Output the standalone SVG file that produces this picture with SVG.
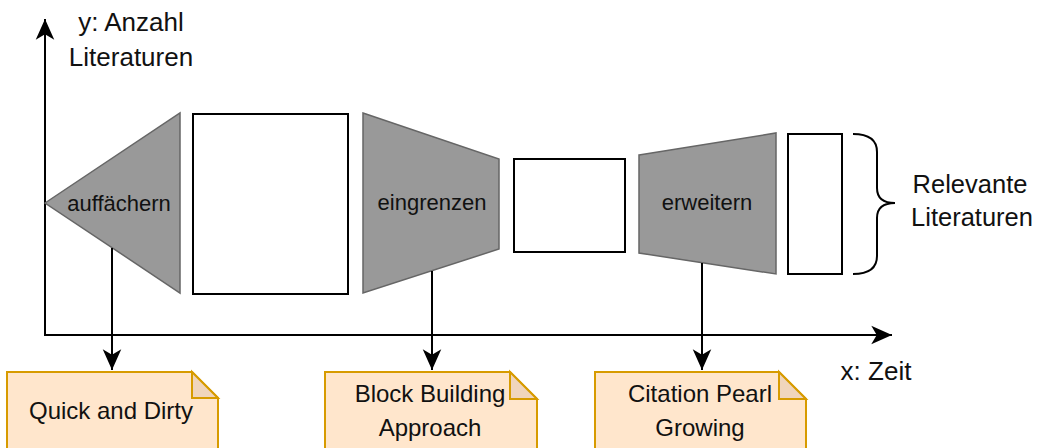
<svg xmlns="http://www.w3.org/2000/svg" width="1039" height="448" viewBox="0 0 1039 448">
  <style>
    text { font-family: "Liberation Sans", Arial, sans-serif; fill: #111; }
    .lbl { font-size: 24px; }
    .axis { font-size: 26px; }
    .big { font-size: 25.5px; }
    .small { font-size: 22px; }
    .gray { fill: #999999; stroke: #666666; stroke-width: 1.5; }
    .box { fill: #ffffff; stroke: #000000; stroke-width: 2; }
    .note { fill: #ffe6cc; stroke: #d79b00; stroke-width: 2; }
    .fold { fill: #f0d5bc; stroke: #d79b00; stroke-width: 2; stroke-linejoin: miter; }
    .line { fill: none; stroke: #000000; stroke-width: 2; }
  </style>
  <defs>
    <marker id="arrow" markerUnits="userSpaceOnUse" markerWidth="24" markerHeight="24" viewBox="-20 -10 22 20" refX="0" refY="0" orient="auto">
      <path d="M0,0 L-19,-8.5 L-14,0 L-19,8.5 Z" fill="#000"/>
    </marker>
  </defs>

  <!-- axes -->
  <g id="axes">
    <path class="line" d="M45,336 L45,19" marker-end="url(#arrow)"/>
    <path class="line" d="M45,335 L892,335" marker-end="url(#arrow)"/>
    <text class="axis" x="131" y="31" text-anchor="middle">y: Anzahl</text>
    <text class="axis" x="131" y="66" text-anchor="middle">Literaturen</text>
    <text class="axis" x="876" y="380" text-anchor="middle">x: Zeit</text>
  </g>

  <!-- funnel stages -->
  <g id="auffaechern">
    <polygon class="gray" points="45,203 180,113 180,293"/>
    <text class="small" x="119" y="211" text-anchor="middle">auffächern</text>
  </g>
  <g id="menge1">
    <rect class="box" x="193" y="114" width="155" height="180"/>
  </g>
  <g id="eingrenzen">
    <polygon class="gray" points="363,113 499,159 499,249 363,293"/>
    <text class="small" x="432" y="210" text-anchor="middle">eingrenzen</text>
  </g>
  <g id="menge2">
    <rect class="box" x="514" y="159" width="111" height="93"/>
  </g>
  <g id="erweitern">
    <polygon class="gray" points="639,155 776,133 776,274 639,253"/>
    <text class="small" x="707" y="210" text-anchor="middle">erweitern</text>
  </g>
  <g id="menge3">
    <rect class="box" x="788" y="134" width="54" height="140"/>
  </g>
  <g id="relevante">
    <path class="line" d="M853,134 Q877,134 877,152 L877,188 Q877,203 895,203 Q877,203 877,218 L877,256 Q877,274 853,274"/>
    <text class="big" x="970" y="193" text-anchor="middle">Relevante</text>
    <text class="big" x="972" y="226" text-anchor="middle">Literaturen</text>
  </g>

  <!-- method notes -->
  <g id="quick-dirty">
    <path class="note" d="M7,372 L192,372 L218,398 L218,460 L7,460 Z"/>
    <path class="fold" d="M192,372 L192,398 L218,398 Z"/>
    <text class="lbl" x="111" y="419" text-anchor="middle">Quick and Dirty</text>
  </g>
  <g id="block-building">
    <path class="note" d="M325,372 L510,372 L537,399 L537,460 L325,460 Z"/>
    <path class="fold" d="M510,372 L510,399 L537,399 Z"/>
    <text class="lbl" x="430" y="402" text-anchor="middle">Block Building</text>
    <text class="lbl" x="430" y="436" text-anchor="middle">Approach</text>
  </g>
  <g id="citation-pearl">
    <path class="note" d="M595,372 L779,372 L806,399 L806,460 L595,460 Z"/>
    <path class="fold" d="M779,372 L779,399 L806,399 Z"/>
    <text class="lbl" x="700" y="402" text-anchor="middle">Citation Pearl</text>
    <text class="lbl" x="700" y="436" text-anchor="middle">Growing</text>
  </g>

  <!-- connectors -->
  <g id="connectors">
    <path class="line" d="M112,248 L112,370" marker-end="url(#arrow)"/>
    <path class="line" d="M432,271 L432,370" marker-end="url(#arrow)"/>
    <path class="line" d="M702,263 L702,370" marker-end="url(#arrow)"/>
  </g>
</svg>
